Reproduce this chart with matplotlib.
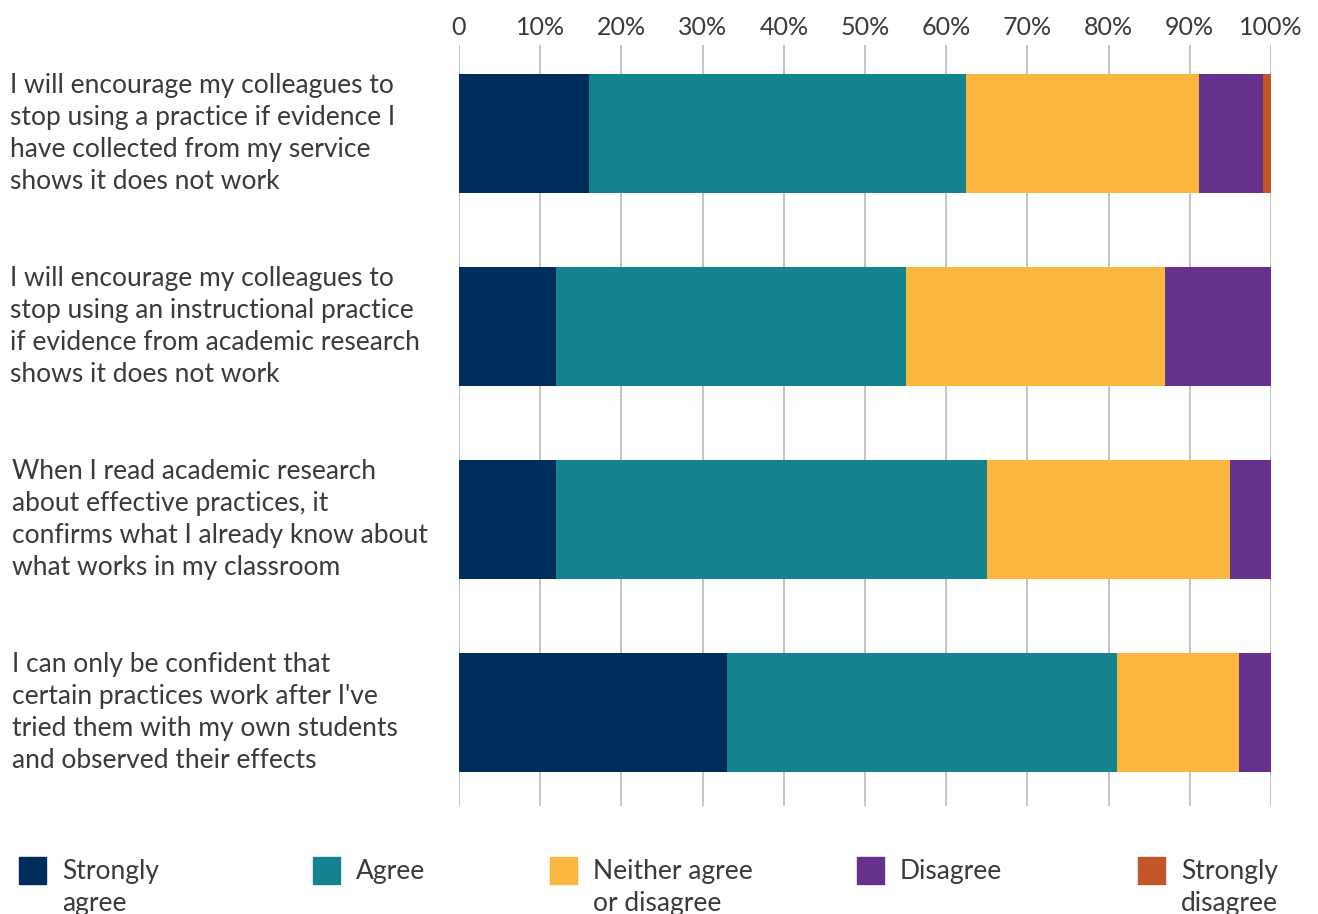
import numpy as np
import matplotlib.pyplot as plt
from matplotlib.patches import Rectangle

plt.rcParams['font.family'] = ['Lato', 'DejaVu Sans']

# statements (top to bottom)
statements = [
    "I will encourage my colleagues to\nstop using a practice if evidence I\nhave collected from my service\nshows it does not work",
    "I will encourage my colleagues to\nstop using an instructional practice\nif evidence from academic research\nshows it does not work",
    "When I read academic research\nabout effective practices, it\nconfirms what I already know about\nwhat works in my classroom",
    "I can only be confident that\ncertain practices work after I've\ntried them with my own students\nand observed their effects",
]

categories = ["Strongly\nagree", "Agree", "Neither agree\nor disagree", "Disagree", "Strongly\ndisagree"]
colors = ["#002D5C", "#13848F", "#FBB63F", "#66318C", "#C35528"]

# percent of respondents per statement
strongly_agree = [16, 12, 12, 33]
agree = [46.4, 43, 53, 48]
neither = [28.7, 32, 30, 15]
disagree = [7.9, 13, 5, 4]
strongly_disagree = [1, 0, 0, 0]

series = [strongly_agree, agree, neither, disagree, strongly_disagree]

ticks = np.arange(0, 101, 10)
tick_labels = ["0"] + [f"{t}%" for t in ticks[1:]]

text_col = "#3a3a3a"

fig = plt.figure(figsize=(13.18, 9.14), dpi=100)
ax = fig.add_axes([459/1318, 1 - 806/914, (1271 - 459)/1318, (806 - 45)/914])

y = np.arange(len(statements))
left = np.zeros(len(statements))
for vals, col in zip(series, colors):
    vals = np.array(vals, dtype=float)
    ax.barh(y, vals, left=left, height=0.617, color=col, zorder=2)
    left += vals

ax.set_xlim(0, 100)
ax.set_ylim(3.484, -0.4585)
ax.set_xticks(ticks)
ax.set_xticklabels(tick_labels, fontsize=18, color=text_col)
ax.xaxis.tick_top()
ax.tick_params(axis='x', length=0, pad=4)
ax.set_yticks([])
ax.grid(axis='x', color='#c4c4c4', linewidth=1.4, zorder=1)
for s in ax.spines.values():
    s.set_visible(False)

# statement labels on the left (x in pixels -> axes fraction)
label_x = [10, 10, 12, 12]
for i, s in enumerate(statements):
    ax.text((label_x[i] - 459) / (1271 - 459), y[i], s,
            transform=ax.get_yaxis_transform(), ha='left', va='center',
            fontsize=19, color=text_col, linespacing=1.36)

# legend along the bottom (second lines run off the bottom edge, as in the original)
leg_x = [19, 313, 550, 857, 1138]
for lx, lab, col in zip(leg_x, categories, colors):
    fig.patches.append(Rectangle((lx/1318, 1 - 884/914), 27/1318, 27/914,
                                 transform=fig.transFigure, color=col))
    fig.text((lx + 43)/1318, 1 - 859/914, lab, ha='left', va='top',
             fontsize=19, color=text_col, linespacing=1.36)

fig.savefig("out.png", dpi=100)
